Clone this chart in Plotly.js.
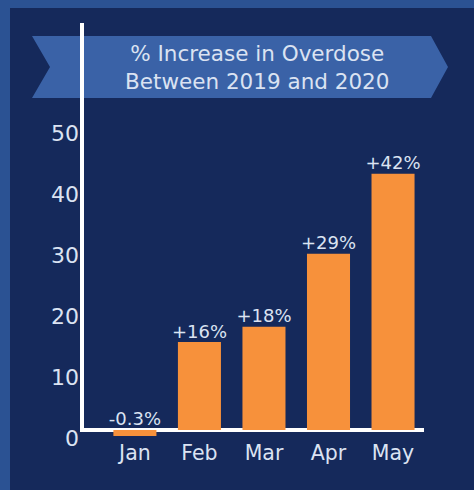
<!DOCTYPE html>
<html>
<head>
<meta charset="utf-8">
<script src="https://cdn.plot.ly/plotly-3.0.1.min.js"></script>
<style>
html,body{margin:0;padding:0;background:#2b5293;width:474px;height:490px;overflow:hidden;}
#chart{position:absolute;left:10px;top:8px;width:464px;height:482px;}
</style>
</head>
<body>
<div id="chart"></div>
<script>
// Data
const months = ["Jan", "Feb", "Mar", "Apr", "May"];
const barHeights = [-1.0, 14.4, 16.9, 28.9, 42.0];   // bar heights as drawn
const barLabels = ["-0.3%", "+16%", "+18%", "+29%", "+42%"];
const yTicks = [0, 10, 20, 30, 40, 50];
const titleLines = ["% Increase in Overdose", "Between 2019 and 2020"];

const navy = "#15295b";
const banner = "#3a62a7";
const orange = "#f7913b";
const textCol = "#dbe3f2";
const font = "DejaVu Sans, sans-serif";

const W = 464, H = 482;
const M = {l: 72, r: 50, t: 15, b: 53};
const pw = W - M.l - M.r, ph = H - M.t - M.b;
// pixel (page) -> paper coordinates (div offset 10,8)
const px = x => (x - 10 - M.l) / pw;
const py = y => 1 - (y - 8 - M.t) / ph;

const yMax = 66.7, yMin = -1.15;

const bannerPts = [[32,36],[431,36],[448,67],[431,98],[32,98],[50,67]];
const bannerPath = "M " + bannerPts.map(p => px(p[0]) + "," + py(p[1])).join(" L ") + " Z";

const traces = [
  {
    type: "bar",
    x: months,
    y: barHeights,
    marker: {color: orange},
    hoverinfo: "skip",
    cliponaxis: true
  },
  {
    type: "scatter",
    mode: "text",
    x: months,
    y: barHeights.map(v => Math.max(v, 0)),
    text: barLabels,
    textposition: "top center",
    textfont: {family: font, size: 18, color: textCol},
    hoverinfo: "skip",
    cliponaxis: false
  }
];

const layout = {
  width: W,
  height: H,
  margin: M,
  paper_bgcolor: navy,
  plot_bgcolor: "rgba(0,0,0,0)",
  showlegend: false,
  bargap: 0.333,
  xaxis: {
    type: "category",
    range: [-0.82, 4.48],
    showgrid: false,
    showline: false,
    zeroline: false,
    ticks: "",
    tickfont: {family: font, size: 20.5, color: textCol},
    ticklabelstandoff: 1,
    fixedrange: true
  },
  yaxis: {
    range: [yMin, yMax],
    tickvals: yTicks,
    ticktext: yTicks.map(String),
    showgrid: false,
    showline: false,
    zeroline: true,
    zerolinecolor: "#ffffff",
    zerolinewidth: 4,
    ticks: "",
    tickfont: {family: font, size: 22, color: textCol},
    ticklabelshift: 8,
    ticklabelstandoff: 2,
    fixedrange: true
  },
  shapes: [
    {type: "path", xref: "paper", yref: "paper", path: bannerPath,
     fillcolor: banner, line: {width: 0}, layer: "below"},
    {type: "line", xref: "paper", yref: "y", x0: 0, x1: 0, y0: -0.33, y1: yMax,
     line: {color: "#ffffff", width: 4}, layer: "above"}
  ],
  annotations: [
    {xref: "paper", yref: "paper", x: px(257), y: py(67), xanchor: "center", yanchor: "middle",
     text: titleLines.join("<br>"), showarrow: false,
     font: {family: font, size: 21.5, color: textCol}, align: "center"}
  ]
};

Plotly.newPlot("chart", traces, layout, {staticPlot: true, displayModeBar: false});
</script>
</body>
</html>
